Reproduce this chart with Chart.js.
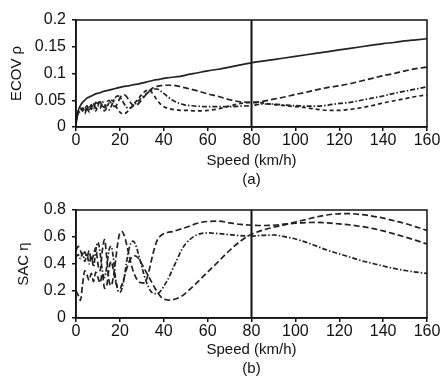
<!DOCTYPE html>
<html>
<head>
<meta charset="utf-8">
<script src="https://cdn.jsdelivr.net/npm/chart.js@4"></script>
<style>
  body { margin: 0; background: #fff; }
  .panel { position: absolute; left: 0; width: 442px; height: 190px; }
  #top { top: 0; }
  #bottom { top: 189px; }
</style>
</head>
<body>
<div class="panel" id="top"><canvas id="ecovChart" width="442" height="190"></canvas></div>
<div class="panel" id="bottom"><canvas id="sacChart" width="442" height="190"></canvas></div>
<script>
// speed axis (km/h), dense at low speed where the curves oscillate
const speeds = [
  0, 1, 2, 3, 4, 5, 6, 7, 8, 9,
  10, 11, 12, 13, 14, 15, 16, 17, 18, 19,
  20, 21, 22, 23, 24, 25, 26, 27, 28, 29,
  30, 31, 32, 33, 34, 35, 36, 37, 38, 39,
  40, 42, 44, 46, 48, 50,
  55, 60, 65, 70, 75, 80, 85, 90, 95, 100,
  105, 110, 115, 120, 125, 130, 135, 140, 145, 150, 155, 160,
];
const speedTicks = [0, 20, 40, 60, 80, 100, 120, 140, 160];
const markerSpeed = [80];

// (a) ECOV
const ecovTicks = ["0", "0.05", "0.1", "0.15", "0.2"];
const ecovSolid = [
  0.005, 0.03, 0.04, 0.046, 0.05, 0.054, 0.056, 0.058, 0.06, 0.062,
  0.063, 0.064, 0.066, 0.067, 0.068, 0.069, 0.07, 0.071, 0.072, 0.073,
  0.074, 0.075, 0.076, 0.0765, 0.077, 0.078, 0.079, 0.0795, 0.08, 0.081,
  0.082, 0.083, 0.084, 0.085, 0.086, 0.087, 0.088, 0.0885, 0.089, 0.09,
  0.091, 0.092, 0.093, 0.094, 0.095, 0.097,
  0.101, 0.105, 0.108, 0.112, 0.116, 0.12, 0.123, 0.126, 0.129, 0.132,
  0.135, 0.138, 0.141, 0.144, 0.147, 0.15, 0.153, 0.156, 0.158, 0.161, 0.163, 0.165,
];
const ecovA = [
  0.02, 0.03, 0.035, 0.03, 0.038, 0.032, 0.04, 0.033, 0.042, 0.035,
  0.045, 0.047, 0.04, 0.036, 0.045, 0.05, 0.045, 0.04, 0.038, 0.045,
  0.054, 0.059, 0.06, 0.057, 0.051, 0.045, 0.041, 0.04, 0.042, 0.046,
  0.051, 0.056, 0.061, 0.066, 0.07, 0.073, 0.075, 0.076, 0.077, 0.0775,
  0.078, 0.078, 0.078, 0.077, 0.075, 0.073,
  0.068, 0.062, 0.057, 0.051, 0.047, 0.046, 0.048, 0.052, 0.056, 0.061,
  0.065, 0.07, 0.074, 0.077, 0.081, 0.086, 0.091, 0.096, 0.1, 0.105, 0.109, 0.112,
];
const ecovB = [
  0.015, 0.025, 0.03, 0.036, 0.03, 0.04, 0.032, 0.042, 0.034, 0.046,
  0.04, 0.035, 0.047, 0.042, 0.034, 0.032, 0.038, 0.048, 0.055, 0.058,
  0.056, 0.05, 0.043, 0.037, 0.035, 0.036, 0.039, 0.043, 0.047, 0.051,
  0.055, 0.059, 0.062, 0.065, 0.068, 0.07, 0.071, 0.071, 0.069, 0.066,
  0.063, 0.056, 0.05, 0.046, 0.043, 0.041,
  0.039, 0.038, 0.038, 0.038, 0.039, 0.04, 0.043, 0.043, 0.041, 0.04,
  0.039, 0.039, 0.041, 0.044, 0.046, 0.05, 0.054, 0.058, 0.063, 0.067, 0.071, 0.075,
];
const ecovC = [
  0.01, 0.025, 0.035, 0.03, 0.025, 0.035, 0.028, 0.038, 0.045, 0.03,
  0.04, 0.048, 0.038, 0.03, 0.036, 0.045, 0.05, 0.048, 0.041, 0.033,
  0.028, 0.025, 0.025, 0.027, 0.031, 0.036, 0.041, 0.046, 0.051, 0.056,
  0.061, 0.065, 0.068, 0.069, 0.067, 0.062, 0.056, 0.05, 0.045, 0.041,
  0.038, 0.035, 0.033, 0.032, 0.031, 0.031,
  0.03, 0.031, 0.034, 0.039, 0.044, 0.046, 0.045, 0.042, 0.04, 0.038,
  0.036, 0.033, 0.031, 0.031, 0.033, 0.036, 0.04, 0.045, 0.049, 0.053, 0.057, 0.06,
];

// (b) SAC
const sacTicks = ["0", "0.2", "0.4", "0.6", "0.8"];
const sacP = [
  0.5, 0.53, 0.5, 0.46, 0.49, 0.45, 0.5, 0.42, 0.47, 0.52,
  0.4, 0.35, 0.5, 0.58, 0.45, 0.28, 0.24, 0.3, 0.42, 0.55,
  0.63, 0.64, 0.61, 0.55, 0.48, 0.41, 0.35, 0.31, 0.28, 0.265,
  0.26, 0.26, 0.28, 0.33, 0.4, 0.47, 0.53, 0.575, 0.6, 0.615,
  0.625, 0.635, 0.64, 0.65, 0.66, 0.67,
  0.7, 0.715, 0.717, 0.705, 0.693, 0.688, 0.685, 0.687, 0.695, 0.702,
  0.707, 0.708, 0.704, 0.697, 0.689, 0.678, 0.664, 0.645, 0.623, 0.6, 0.575, 0.548,
];
const sacQ = [
  0.45, 0.47, 0.44, 0.48, 0.42, 0.47, 0.4, 0.46, 0.38, 0.5,
  0.56, 0.48, 0.35, 0.3, 0.38, 0.5, 0.53, 0.45, 0.3, 0.21,
  0.19, 0.22, 0.3, 0.41, 0.5, 0.555, 0.57, 0.55, 0.5, 0.44,
  0.38, 0.32, 0.27, 0.23, 0.2, 0.185, 0.18, 0.18, 0.19, 0.21,
  0.235, 0.29, 0.36, 0.43, 0.5, 0.55,
  0.615, 0.63, 0.625, 0.617, 0.61, 0.607, 0.612, 0.615, 0.603, 0.585,
  0.56, 0.53, 0.5, 0.475, 0.45, 0.425, 0.405, 0.385, 0.367, 0.352, 0.34, 0.33,
];
const sacR = [
  0.2, 0.17, 0.13, 0.25, 0.35, 0.32, 0.28, 0.33, 0.27, 0.34,
  0.3, 0.26, 0.33, 0.22, 0.24, 0.36, 0.42, 0.36, 0.27, 0.23,
  0.22, 0.25, 0.3, 0.36, 0.41, 0.44, 0.455, 0.46, 0.45, 0.43,
  0.4, 0.37, 0.34, 0.31, 0.28, 0.25, 0.22, 0.195, 0.17, 0.15,
  0.14, 0.133, 0.135, 0.145, 0.16, 0.185,
  0.26, 0.34, 0.42, 0.5, 0.57, 0.62, 0.65, 0.672, 0.69, 0.71,
  0.73, 0.75, 0.765, 0.772, 0.773, 0.766, 0.755, 0.74, 0.72, 0.7, 0.675, 0.648,
];

const ink = "#111";
const tickFont = { family: "'Liberation Sans', Arial, sans-serif", size: 16 };
const titleFont = { family: "'Liberation Sans', Arial, sans-serif", size: 15 };

function points(values) {
  return speeds.map((s, i) => ({ x: s, y: values[i] }));
}

function curve(values, dash) {
  return {
    data: points(values),
    borderColor: "#222",
    borderWidth: 1.7,
    borderDash: dash,
    pointRadius: 0,
    cubicInterpolationMode: "monotone",
  };
}

function marker(yMax) {
  return {
    data: [{ x: markerSpeed[0], y: 0 }, { x: markerSpeed[0], y: yMax }],
    borderColor: ink,
    borderWidth: 2,
    pointRadius: 0,
  };
}

// closes the frame on the top and right sides
const frame = {
  id: "frame",
  afterDraw(chart) {
    const { ctx, chartArea: a } = chart;
    ctx.save();
    ctx.strokeStyle = ink;
    ctx.lineWidth = 1.5;
    ctx.strokeRect(a.left, a.top, a.right - a.left, a.bottom - a.top);
    ctx.restore();
  },
};

function makeChart(id, opts) {
  const canvasH = 190;
  return new Chart(document.getElementById(id), {
    type: "line",
    data: { datasets: opts.datasets },
    plugins: [frame],
    options: {
      responsive: false,
      animation: false,
      devicePixelRatio: 1,
      layout: { padding: { left: opts.padLeft, top: opts.top, right: 15, bottom: 0 } },
      plugins: { legend: { display: false }, tooltip: { enabled: false } },
      scales: {
        x: {
          type: "linear",
          min: 0,
          max: 160,
          afterBuildTicks: (scale) => {
            scale.ticks = speedTicks.map((v) => ({ value: v }));
          },
          afterFit: (scale) => {
            scale.height = canvasH - opts.bottom;
          },
          ticks: { color: ink, font: tickFont, padding: 0, maxRotation: 0 },
          grid: { drawOnChartArea: false, tickLength: 4, color: ink, lineWidth: 1.5 },
          border: { color: ink, width: 1.5 },
          title: {
            display: true,
            text: ["Speed (km/h)", opts.tag],
            color: ink,
            font: { ...titleFont, lineHeight: 1.3 },
            padding: { top: 0, bottom: 0 },
          },
        },
        y: {
          min: 0,
          max: opts.yMax,
          afterBuildTicks: (scale) => {
            scale.ticks = opts.yLabels.map((t) => ({ value: parseFloat(t) }));
          },
          afterFit: (scale) => {
            scale.width = 76 - opts.padLeft;
          },
          ticks: {
            color: ink,
            font: tickFont,
            padding: 6,
            callback: (v, i) => opts.yLabels[i],
          },
          grid: { drawOnChartArea: false, tickLength: 4, color: ink, lineWidth: 1.5 },
          border: { color: ink, width: 1.5 },
          title: {
            display: true,
            text: opts.yTitle,
            color: ink,
            font: { ...titleFont, lineHeight: 1.2 },
            padding: { top: 0, bottom: 0 },
          },
        },
      },
    },
  });
}

const ecovChart = makeChart("ecovChart", {
  datasets: [
    curve(ecovSolid, []),
    curve(ecovA, [6, 3]),
    curve(ecovB, [5, 2, 1.5, 2]),
    curve(ecovC, [4, 3]),
    marker(0.2),
  ],
  yMax: 0.2,
  yLabels: ecovTicks,
  yTitle: "ECOV ρ",
  tag: "(a)",
  padLeft: 8,
  top: 20,
  bottom: 127,
});

const sacChart = makeChart("sacChart", {
  datasets: [
    curve(sacP, [6, 3]),
    curve(sacQ, [5, 2, 1.5, 2]),
    curve(sacR, [6, 3]),
    marker(0.8),
  ],
  yMax: 0.8,
  yLabels: sacTicks,
  yTitle: "SAC η",
  tag: "(b)",
  padLeft: 15,
  top: 21,
  bottom: 129,
});
</script>
</body>
</html>
